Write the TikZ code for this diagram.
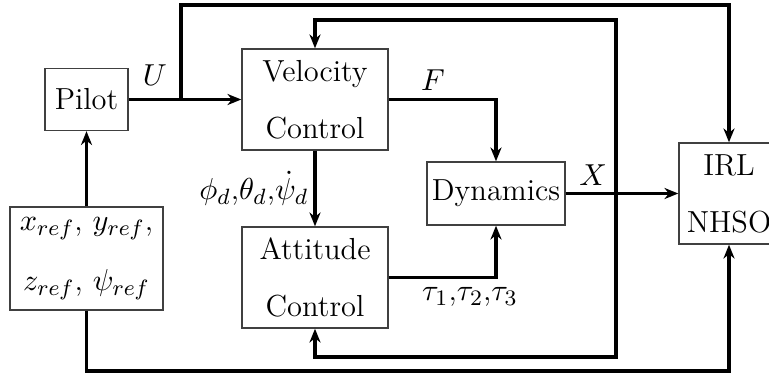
\documentclass[tikz,border=0pt]{standalone}
\usepackage{amsmath}
\usetikzlibrary{arrows.meta}
\begin{document}
\begin{tikzpicture}[>={Stealth[length=5pt, width=4pt, inset=1.6pt]}, x=0.0127cm, y=-0.0127cm,
    every node/.style={font=\fontsize{11}{13.2}\selectfont},
    blk/.style={draw=black!75, line width=0.5pt, inner sep=0pt, align=center},
    sig/.style={line width=1.1pt}]
  \useasboundingbox (0,0) rectangle (769,374);
  % Blocks placed at fixed positions
  \node[blk, minimum width=1.054cm, minimum height=0.787cm] (pilot) at (86.5,99.5) {Pilot};
  \node[blk, minimum width=1.943cm, minimum height=1.308cm] (ref) at (86.5,258.5)
    {$x_{ref}$, $y_{ref}$,\\[8.5pt] $z_{ref}$, $\psi_{ref}$};
  \node[blk, minimum width=1.854cm, minimum height=1.283cm] (vel) at (315,99.5)
    {Velocity\\[7.4pt] Control};
  \node[blk, minimum width=1.854cm, minimum height=1.283cm] (att) at (315,277.5)
    {Attitude\\[7.4pt] Control};
  \node[blk, minimum width=1.753cm, minimum height=0.8cm] (dyn) at (496,193.5) {Dynamics};
  \node[blk, minimum width=1.27cm, minimum height=1.283cm] (irl) at (729,193.5)
    {IRL\\[7.4pt] NHSO};

  % Branch points of the signal lines
  \coordinate (jn) at (181,99.5);
  \coordinate (fb) at (616,193.5);

  % Forward path
  \draw[sig, ->] (pilot) -- (vel);
  \draw[sig, ->] (vel.east) -| (dyn.north);
  \draw[sig, ->] (vel) -- (att);
  \draw[sig, ->] (att.east) -| (dyn.south);
  \draw[sig, ->] (dyn) -- (irl);
  \draw[sig, ->] (ref) -- (pilot);

  % Lines going to the observer
  \draw[sig, ->] (jn) -- (181,5) -| (irl.north);
  \draw[sig, ->] (ref.south) -- (86.5,371) -| (irl.south);

  % Feedback of the state
  \draw[sig, ->] (fb) -- (616,20) -| (vel.north);
  \draw[sig, ->] (fb) -- (616,357) -| (att.south);

  % Signal labels
  \node (lu) at (155,75) {$U$};
  \node (lf) at (433,80) {$F$};
  \node (lx) at (593,175) {$X$};
  \node[anchor=east, inner sep=0pt] (lang) at (309,188) {$\phi_d$,$\theta_d$,$\dot{\psi}_d$};
  \node (ltau) at (470,297) {$\tau_1$,$\tau_2$,$\tau_3$};
\end{tikzpicture}
\end{document}
